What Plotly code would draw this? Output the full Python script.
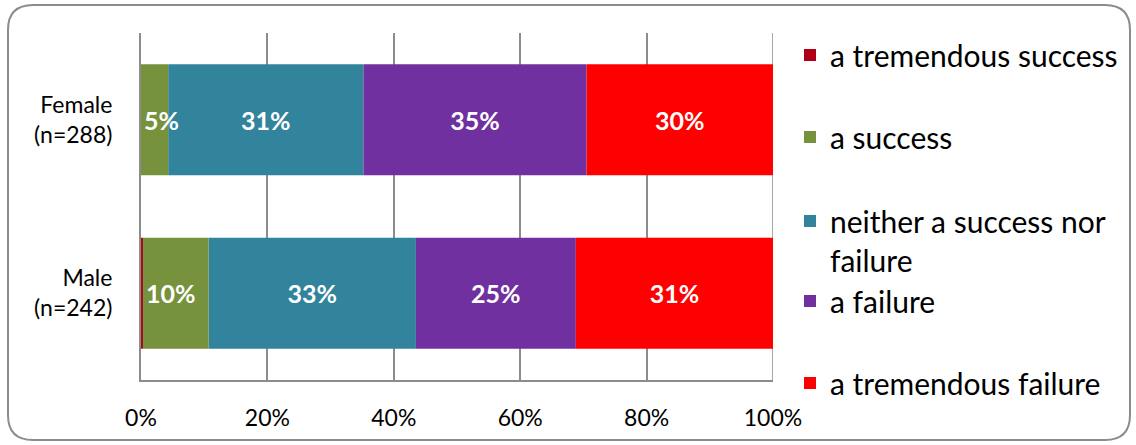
import plotly.graph_objects as go
import numpy as np

categories = ["Male<br>(n=242)", "Female<br>(n=288)"]
series_names = ["a tremendous success", "a success",
                "neither a success nor<br>failure", "a failure", "a tremendous failure"]
# values in percent, order: [Male, Female]
tremendous_success = [0.3, 0.0]
success = [10.4, 4.3]
neither = [32.8, 30.9]
failure = [25.3, 35.3]
tremendous_failure = [31.2, 29.5]
# data labels as printed in the chart
labels_ts = ["", ""]
labels_s = ["10%", "5%"]
labels_n = ["33%", "31%"]
labels_f = ["25%", "35%"]
labels_tf = ["31%", "30%"]

values = [tremendous_success, success, neither, failure, tremendous_failure]
labels = [labels_ts, labels_s, labels_n, labels_f, labels_tf]
colors = ["#B00018", "#76923C", "#31849B", "#7030A0", "#FF0000"]
anchors = ["middle", "start", "middle", "middle", "middle"]
legend_ids = ["legend", "legend2", "legend3", "legend4", "legend5"]

# stacked bases computed from the data
bases = np.cumsum([[0, 0]] + values[:-1], axis=0)

FONT = "Lato"

fig = go.Figure()
# draw order: "a success" last so its overflowing "5%" label stays on top
draw_order = [0, 2, 3, 4, 1]
for i in draw_order:
    fig.add_trace(go.Bar(
        y=categories, x=values[i], base=list(bases[i]), name=series_names[i],
        orientation="h",
        marker=dict(color=colors[i], line=dict(width=0)),
        text=labels[i], textposition="inside", insidetextanchor=anchors[i], textangle=0,
        textfont=dict(family=FONT, size=25, color="white", weight="bold"),
        legend=legend_ids[i], hoverinfo="skip", width=0.64, showlegend=True,
        cliponaxis=False,
    ))

# plot-area geometry (pixels) used for paper coordinates
L, R, T, B = 141, 773, 33, 380
W, H = R - L, B - T

def px_x(x):
    return (x - L) / W

def px_y(y):
    return (B - y) / H

legend_common = dict(font=dict(family=FONT, size=30, color="black"),
                     bgcolor="rgba(0,0,0,0)", xanchor="left",
                     itemwidth=30, tracegroupgap=0, visible=True)
leg_pos = [(55, "middle"), (137, "middle"), (217, "top"), (301, "middle"), (383, "middle")]
layout_legends = {}
for lg, (yy, va) in zip(legend_ids, leg_pos):
    d = dict(legend_common)
    d.update(x=px_x(790), y=px_y(yy) if va == "middle" else px_y(yy - 22),
             yanchor="middle" if va == "middle" else "top", valign=va)
    layout_legends[lg] = d

# rounded frame
x0, x1 = px_x(8), px_x(1130)
y0, y1 = px_y(440), px_y(5)
rx, ry = 25 / W, 25 / H
path = (f"M {x0+rx},{y1} L {x1-rx},{y1} Q {x1},{y1} {x1},{y1-ry} "
        f"L {x1},{y0+ry} Q {x1},{y0} {x1-rx},{y0} L {x0+rx},{y0} "
        f"Q {x0},{y0} {x0},{y0+ry} L {x0},{y1-ry} Q {x0},{y1} {x0+rx},{y1} Z")

fig.update_layout(
    barmode="overlay",
    width=1136, height=445,
    margin=dict(l=L, r=1136 - R, t=T, b=445 - B),
    paper_bgcolor="white", plot_bgcolor="white",
    showlegend=True,
    uniformtext=dict(minsize=25, mode="show"),
    shapes=[dict(type="path", path=path, xref="paper", yref="paper",
                 line=dict(color="#8C8C8C", width=2), layer="below"),
            dict(type="line", xref="x", yref="paper", x0=100, x1=100, y0=0, y1=1,
                 line=dict(color="#8C8C8C", width=1.5), layer="below")],
    xaxis=dict(range=[0, 100], dtick=20, ticksuffix="%", showgrid=True,
               gridcolor="#8C8C8C", gridwidth=1.5, showline=True, linecolor="#8C8C8C",
               linewidth=2, zeroline=False, ticks="",
               tickfont=dict(family=FONT, size=23, color="black"), ticklabelstandoff=16),
    yaxis=dict(showline=True, linecolor="#8C8C8C", linewidth=2, ticks="",
               tickfont=dict(family=FONT, size=23, color="black"), ticklabelstandoff=22,
               showgrid=False),
    **layout_legends,
)

fig.write_html("out.html", config={"displayModeBar": False},
               post_script="document.body.style.margin='0';")
